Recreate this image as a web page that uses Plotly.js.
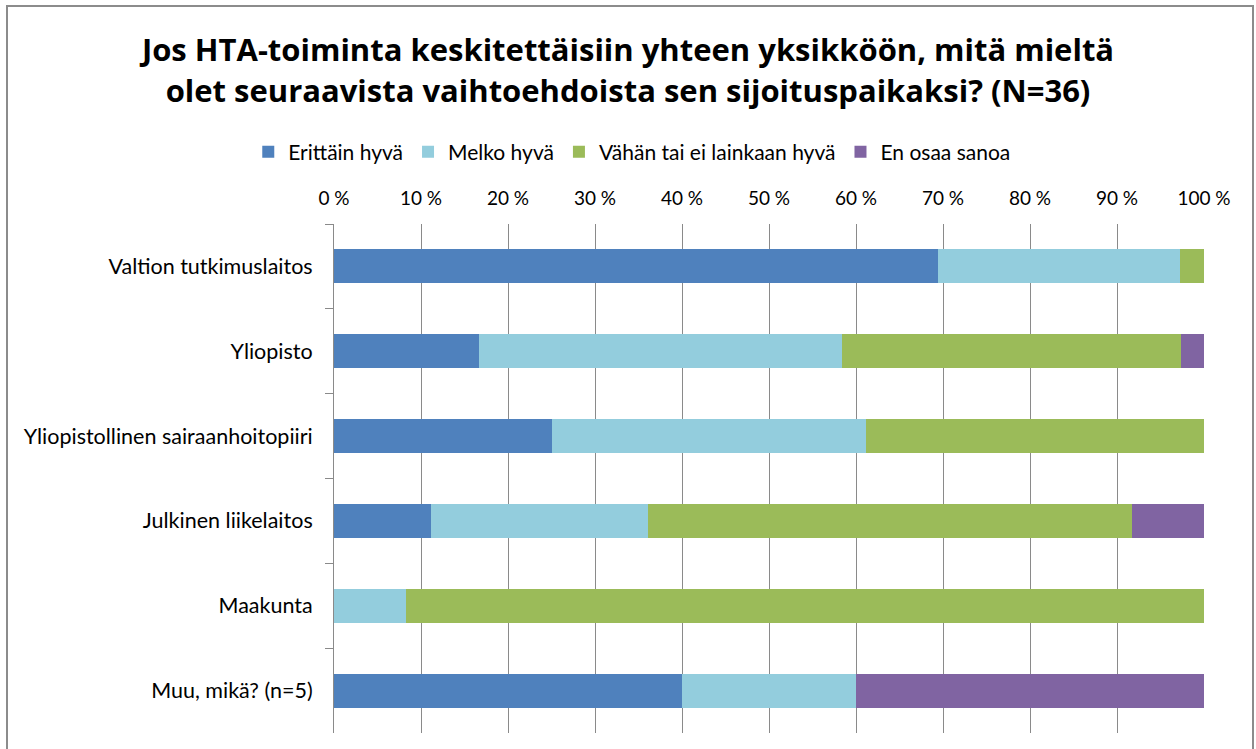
<!DOCTYPE html>
<html>
<head>
<meta charset="utf-8">
<script src="https://cdn.plot.ly/plotly-3.0.1.min.js"></script>
<style>
  body { margin: 0; background: #fff; }
  #chart { width: 1256px; height: 749px; }
  #frame { position: absolute; left: 6px; top: 5px; width: 1244px; height: 760px;
           border: 2px solid #8c8c8c; pointer-events: none; }
</style>
</head>
<body>
<div id="chart"></div>
<div id="frame"></div>
<script>
const categories = [
  "Valtion tutkimuslaitos",
  "Yliopisto",
  "Yliopistollinen sairaanhoitopiiri",
  "Julkinen liikelaitos",
  "Maakunta",
  "Muu, mikä? (n=5)"
];
const seriesNames = ["Erittäin hyvä", "Melko hyvä", "Vähän tai ei lainkaan hyvä", "En osaa sanoa"];
const erittainHyva = [69.4, 16.7, 25.0, 11.1, 0.0, 40.0];
const melkoHyva    = [27.8, 41.7, 36.1, 25.0, 8.3, 20.0];
const vahanHyva    = [2.8, 38.9, 38.9, 55.6, 91.7, 0.0];
const enOsaaSanoa  = [0.0, 2.8, 0.0, 8.3, 0.0, 40.0];
const tickValues = [0, 10, 20, 30, 40, 50, 60, 70, 80, 90, 100];
const tickLabels = ["0 %", "10 %", "20 %", "30 %", "40 %", "50 %", "60 %", "70 %", "80 %", "90 %", "100 %"];
const colors = ["#4F81BD", "#93CDDD", "#9BBB59", "#8064A2"];

const allValues = [erittainHyva, melkoHyva, vahanHyva, enOsaaSanoa];
const FONT = "Lato, 'Open Sans', sans-serif";
const TITLE_FONT = "'Open Sans', Lato, sans-serif";

const traces = allValues.map((vals, i) => ({
  type: "bar",
  orientation: "h",
  name: seriesNames[i],
  y: categories,
  x: vals,
  marker: { color: colors[i], line: { width: 0 } },
  hoverinfo: "name+x"
}));

const layout = {
  width: 1256,
  height: 749,
  barmode: "stack",
  bargap: 0.6,
  paper_bgcolor: "#ffffff",
  plot_bgcolor: "#ffffff",
  margin: { l: 334, r: 52, t: 224, b: 16 },
  font: { family: FONT, color: "#000000", size: 19 },
  title: {
    text: "<b>Jos HTA-toiminta keskitettäisiin yhteen yksikköön, mitä mieltä<br>olet seuraavista vaihtoehdoista sen sijoituspaikaksi? (N=36)</b>",
    font: { family: TITLE_FONT, size: 31, color: "#000000" },
    x: 0.5, xref: "container", xanchor: "center",
    y: 0.918, yref: "container", yanchor: "middle"
  },
  legend: {
    orientation: "h",
    xref: "container", yref: "container",
    x: 0.503, xanchor: "center",
    y: 0.797, yanchor: "middle",
    font: { family: FONT, size: 21, color: "#000000" },
    traceorder: "normal",
    itemwidth: 30
  },
  xaxis: {
    side: "top",
    range: [0, 100],
    tickvals: tickValues,
    ticktext: tickLabels,
    showgrid: true,
    gridcolor: "#8a8a8a",
    gridwidth: 1,
    zeroline: false,
    showline: false,
    ticks: "",
    ticklabelstandoff: 14,
    tickfont: { family: FONT, size: 19, color: "#000000" },
    fixedrange: true
  },
  yaxis: {
    autorange: "reversed",
    type: "category",
    tickson: "boundaries",
    ticks: "outside",
    ticklen: 8,
    tickcolor: "#8a8a8a",
    showline: true,
    linecolor: "#8a8a8a",
    linewidth: 1,
    showgrid: false,
    zeroline: false,
    ticklabelstandoff: 16,
    tickfont: { family: FONT, size: 21.5, color: "#000000" },
    fixedrange: true
  },
  showlegend: true
};

Plotly.newPlot("chart", traces, layout, { displayModeBar: false, staticPlot: true });
</script>
</body>
</html>
